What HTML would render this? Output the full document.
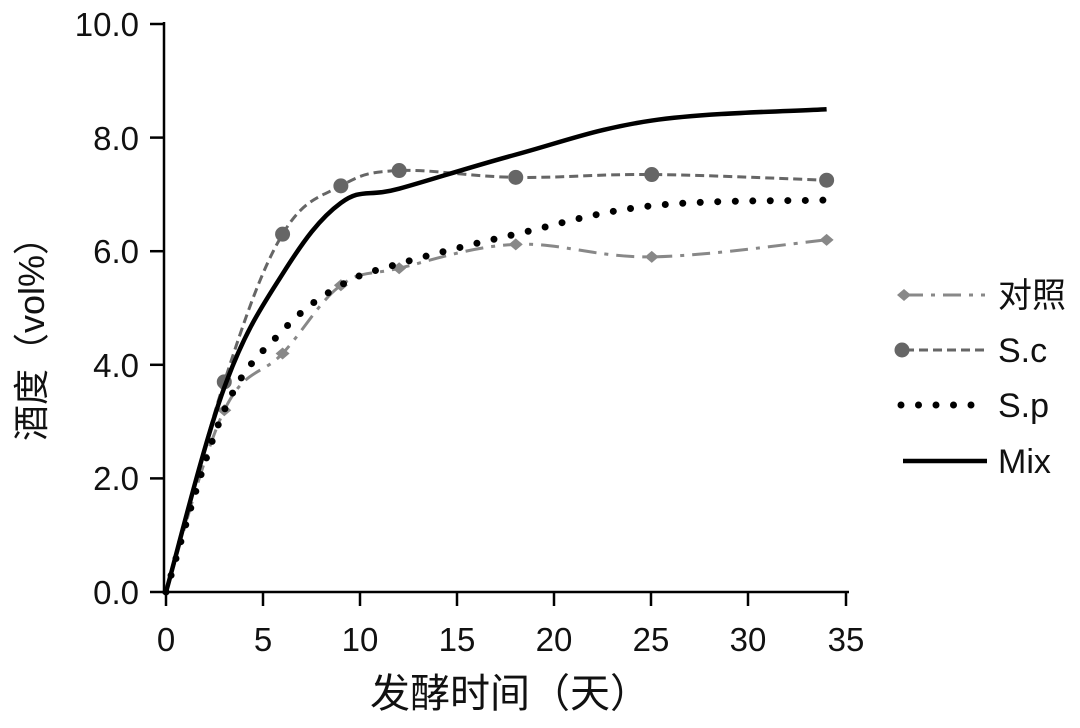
<!DOCTYPE html>
<html><head><meta charset="utf-8"><style>
html,body{margin:0;padding:0;background:#fff;width:1080px;height:728px;overflow:hidden}
text{font-family:"Liberation Sans","Noto Sans CJK SC",sans-serif;fill:#111}
</style></head><body>
<svg id="s" width="1080" height="728" xmlns="http://www.w3.org/2000/svg">
<g stroke="#000" stroke-width="2.5" fill="none">
<line x1="164" y1="22" x2="164" y2="594"/>
<line x1="150" y1="592" x2="849" y2="592"/>
<line x1="150" y1="24" x2="164" y2="24"/>
<line x1="150" y1="137.6" x2="164" y2="137.6"/>
<line x1="150" y1="251.2" x2="164" y2="251.2"/>
<line x1="150" y1="364.8" x2="164" y2="364.8"/>
<line x1="150" y1="478.4" x2="164" y2="478.4"/>
<line x1="166" y1="592" x2="166" y2="606"/>
<line x1="263" y1="592" x2="263" y2="606"/>
<line x1="360" y1="592" x2="360" y2="606"/>
<line x1="457" y1="592" x2="457" y2="606"/>
<line x1="554" y1="592" x2="554" y2="606"/>
<line x1="651" y1="592" x2="651" y2="606"/>
<line x1="748" y1="592" x2="748" y2="606"/>
<line x1="846" y1="592" x2="846" y2="606"/>
</g>
<g font-size="33" text-anchor="end">
<text x="139" y="36">10.0</text><text x="139" y="150">8.0</text><text x="139" y="263">6.0</text>
<text x="139" y="377">4.0</text><text x="139" y="490">2.0</text><text x="139" y="604">0.0</text>
</g>
<g font-size="33" text-anchor="middle">
<text x="166" y="651">0</text><text x="263" y="651">5</text><text x="360" y="651">10</text>
<text x="457" y="651">15</text><text x="554" y="651">20</text><text x="651" y="651">25</text>
<text x="748" y="651">30</text><text x="846" y="651">35</text>
</g>
<text x="510" y="707" font-size="40" text-anchor="middle">发酵时间（天）</text>
<text transform="translate(44,330) rotate(-90)" font-size="36" text-anchor="middle">酒度（vol%）</text>
<g id="series"></g>
<g font-size="34">
<line x1="905" y1="295" x2="985" y2="295" stroke="#888" stroke-width="3" stroke-dasharray="18,8,4,8"/>
<path d="M897 295 l7 -6 l7 6 l-7 6z" fill="#888"/>
<text x="998" y="307">对照</text>
<line x1="905" y1="350" x2="985" y2="350" stroke="#666" stroke-width="3" stroke-dasharray="9,5"/>
<circle cx="902" cy="350" r="7.5" fill="#666"/>
<text x="998" y="362">S.c</text>
<line x1="901" y1="405" x2="985" y2="405" stroke="#000" stroke-width="7" stroke-linecap="round" stroke-dasharray="0,17.5"/>
<text x="998" y="417">S.p</text>
<line x1="903" y1="461" x2="987" y2="461" stroke="#000" stroke-width="4.5"/>
<text x="998" y="473">Mix</text>
</g>
</svg>
<script>
var X=function(x){return 166+19.43*x},Y=function(y){return 592-56.8*y};
function path(d){var p=d.map(function(a){return [X(a[0]),Y(a[1])]});var s="M"+p[0][0]+" "+p[0][1];
for(var i=0;i<p.length-1;i++){var p0=p[i-1]||p[i],p1=p[i],p2=p[i+1],p3=p[i+2]||p2;
var t=0.18;s+=" C"+(p1[0]+(p2[0]-p0[0])*t)+" "+(p1[1]+(p2[1]-p0[1])*t)+" "+(p2[0]-(p3[0]-p1[0])*t)+" "+(p2[1]-(p3[1]-p1[1])*t)+" "+p2[0]+" "+p2[1];}return s;}
var xs=[0,3,6,9,12,18,25,34];
function z(v){return xs.map(function(x,i){return [x,v[i]]})}
var ck=z([0,3.2,4.2,5.4,5.7,6.12,5.9,6.2]),sc=z([0,3.7,6.3,7.15,7.42,7.3,7.35,7.25]),
sp=z([0,3.2,4.6,5.4,5.78,6.3,6.8,6.9]),mx=z([0,3.6,5.6,6.85,7.1,7.7,8.3,8.5]);
var g=document.getElementById("series"),h="";
h+='<path d="'+path(ck)+'" fill="none" stroke="#888" stroke-width="3" stroke-dasharray="18,8,4,8"/>';
ck.slice(1).forEach(function(a){var x=X(a[0]),y=Y(a[1]);h+='<path d="M'+(x-7)+' '+y+' l7 -6 l7 6 l-7 6z" fill="#888"/>'});
h+='<path d="'+path(sc)+'" fill="none" stroke="#666" stroke-width="3" stroke-dasharray="9,5"/>';
sc.slice(1).forEach(function(a){h+='<circle cx="'+X(a[0])+'" cy="'+Y(a[1])+'" r="7.5" fill="#666"/>'});
h+='<path d="'+path(sp)+'" fill="none" stroke="#000" stroke-width="7" stroke-linecap="round" stroke-dasharray="0,17.5"/>';
h+='<path d="'+path(mx)+'" fill="none" stroke="#000" stroke-width="4.5"/>';
g.innerHTML=h;
</script>
</body></html>
